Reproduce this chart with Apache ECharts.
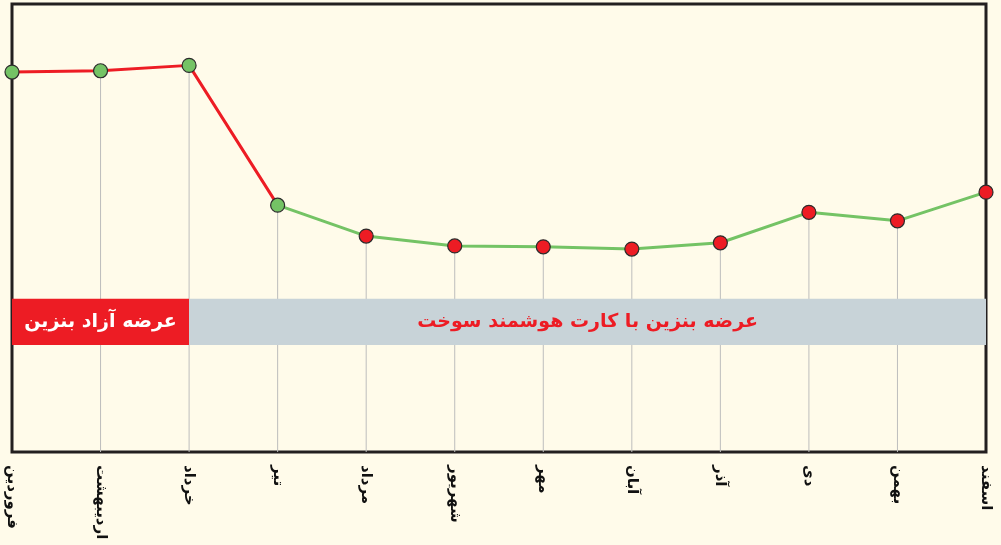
<!DOCTYPE html>
<html>
<head>
<meta charset="utf-8">
<script src="https://cdn.jsdelivr.net/npm/echarts@6/dist/echarts.min.js"></script>
<style>
  html, body { margin: 0; padding: 0; background: #fffbea; }
  #chart { width: 1001px; height: 545px; }
</style>
</head>
<body>
<div id="chart"></div>
<script>
// ماه‌ها
const months = ['فروردین', 'اردیبهشت', 'خرداد', 'تیر', 'مرداد', 'شهریور', 'مهر', 'آبان', 'آذر', 'دی', 'بهمن', 'اسفند'];
// مقادیر (تخمینی از تصویر)
const values = [84.8, 85.1, 86.3, 55.1, 48.2, 46.0, 45.8, 45.3, 46.7, 53.5, 51.6, 58.0];
// رنگ نقطه‌ها
const pointColors = ['green', 'green', 'green', 'green', 'red', 'red', 'red', 'red', 'red', 'red', 'red', 'red'];
// بخش‌های خط
const redSegment = [84.8, 85.1, 86.3, 55.1, '-', '-', '-', '-', '-', '-', '-', '-'];
const greenSegment = ['-', '-', '-', 55.1, 48.2, 46.0, 45.8, 45.3, 46.7, 53.5, 51.6, 58.0];
// خطوط عمودی (ابتدا و انتها روی کادر هستند)
const dropLines = ['-', 85.1, 86.3, 55.1, 48.2, 46.0, 45.8, 45.3, 46.7, 53.5, 51.6, '-'];
// نوار دوره‌ها
const bandRange = [23.9, 34.2];
const freeLabel = 'عرضه آزاد بنزین';
const cardLabel = 'عرضه بنزین با کارت هوشمند سوخت';

const RED = '#ed1c24';
const GREEN = '#74c365';

const chart = echarts.init(document.getElementById('chart'));
const option = {
  backgroundColor: '#fffbea',
  animation: false,
  grid: {
    left: 12, right: 15, top: 4, bottom: 93,
    show: true,
    backgroundColor: '#fffbea',
    borderColor: '#231f20',
    borderWidth: 3
  },
  xAxis: {
    type: 'category',
    data: months,
    boundaryGap: false,
    axisLine: { show: false },
    axisTick: { show: false },
    splitLine: { show: false },
    axisLabel: {
      rotate: -90,
      margin: 13,
      color: '#111',
      fontSize: 15,
      fontWeight: 'bold',
      fontFamily: 'DejaVu Sans',
      interval: 0
    }
  },
  yAxis: {
    type: 'value',
    min: 0,
    max: 100,
    show: false
  },
  series: [
    {
      type: 'bar',
      data: dropLines,
      barWidth: 1,
      z: 0,
      itemStyle: { color: '#bdbdbd' },
      silent: true
    },
    {
      type: 'line',
      data: redSegment,
      showSymbol: false,
      z: 3,
      lineStyle: { color: RED, width: 3 },
      markArea: {
        silent: true,
        z: 1,
        data: [
          [
            { xAxis: months[0], yAxis: bandRange[0], itemStyle: { color: RED },
              label: { show: true, position: 'inside', color: '#fff', fontSize: 19, fontWeight: 'bold', fontFamily: 'DejaVu Sans', formatter: freeLabel } },
            { xAxis: months[2], yAxis: bandRange[1] }
          ],
          [
            { xAxis: months[2], yAxis: bandRange[0], itemStyle: { color: '#c8d3d8' },
              label: { show: true, position: 'inside', color: RED, fontSize: 19, fontWeight: 'bold', fontFamily: 'DejaVu Sans', formatter: cardLabel } },
            { xAxis: months[11], yAxis: bandRange[1] }
          ]
        ]
      }
    },
    {
      type: 'line',
      data: greenSegment,
      showSymbol: false,
      z: 3,
      lineStyle: { color: GREEN, width: 3 }
    },
    {
      type: 'scatter',
      z: 5,
      symbolSize: 14,
      data: values.map((v, i) => ({
        value: v,
        itemStyle: { color: pointColors[i] === 'green' ? GREEN : RED }
      })),
      itemStyle: { borderColor: '#2b2b2b', borderWidth: 1.2, opacity: 1 }
    }
  ]
};
chart.setOption(option);
</script>
</body>
</html>
